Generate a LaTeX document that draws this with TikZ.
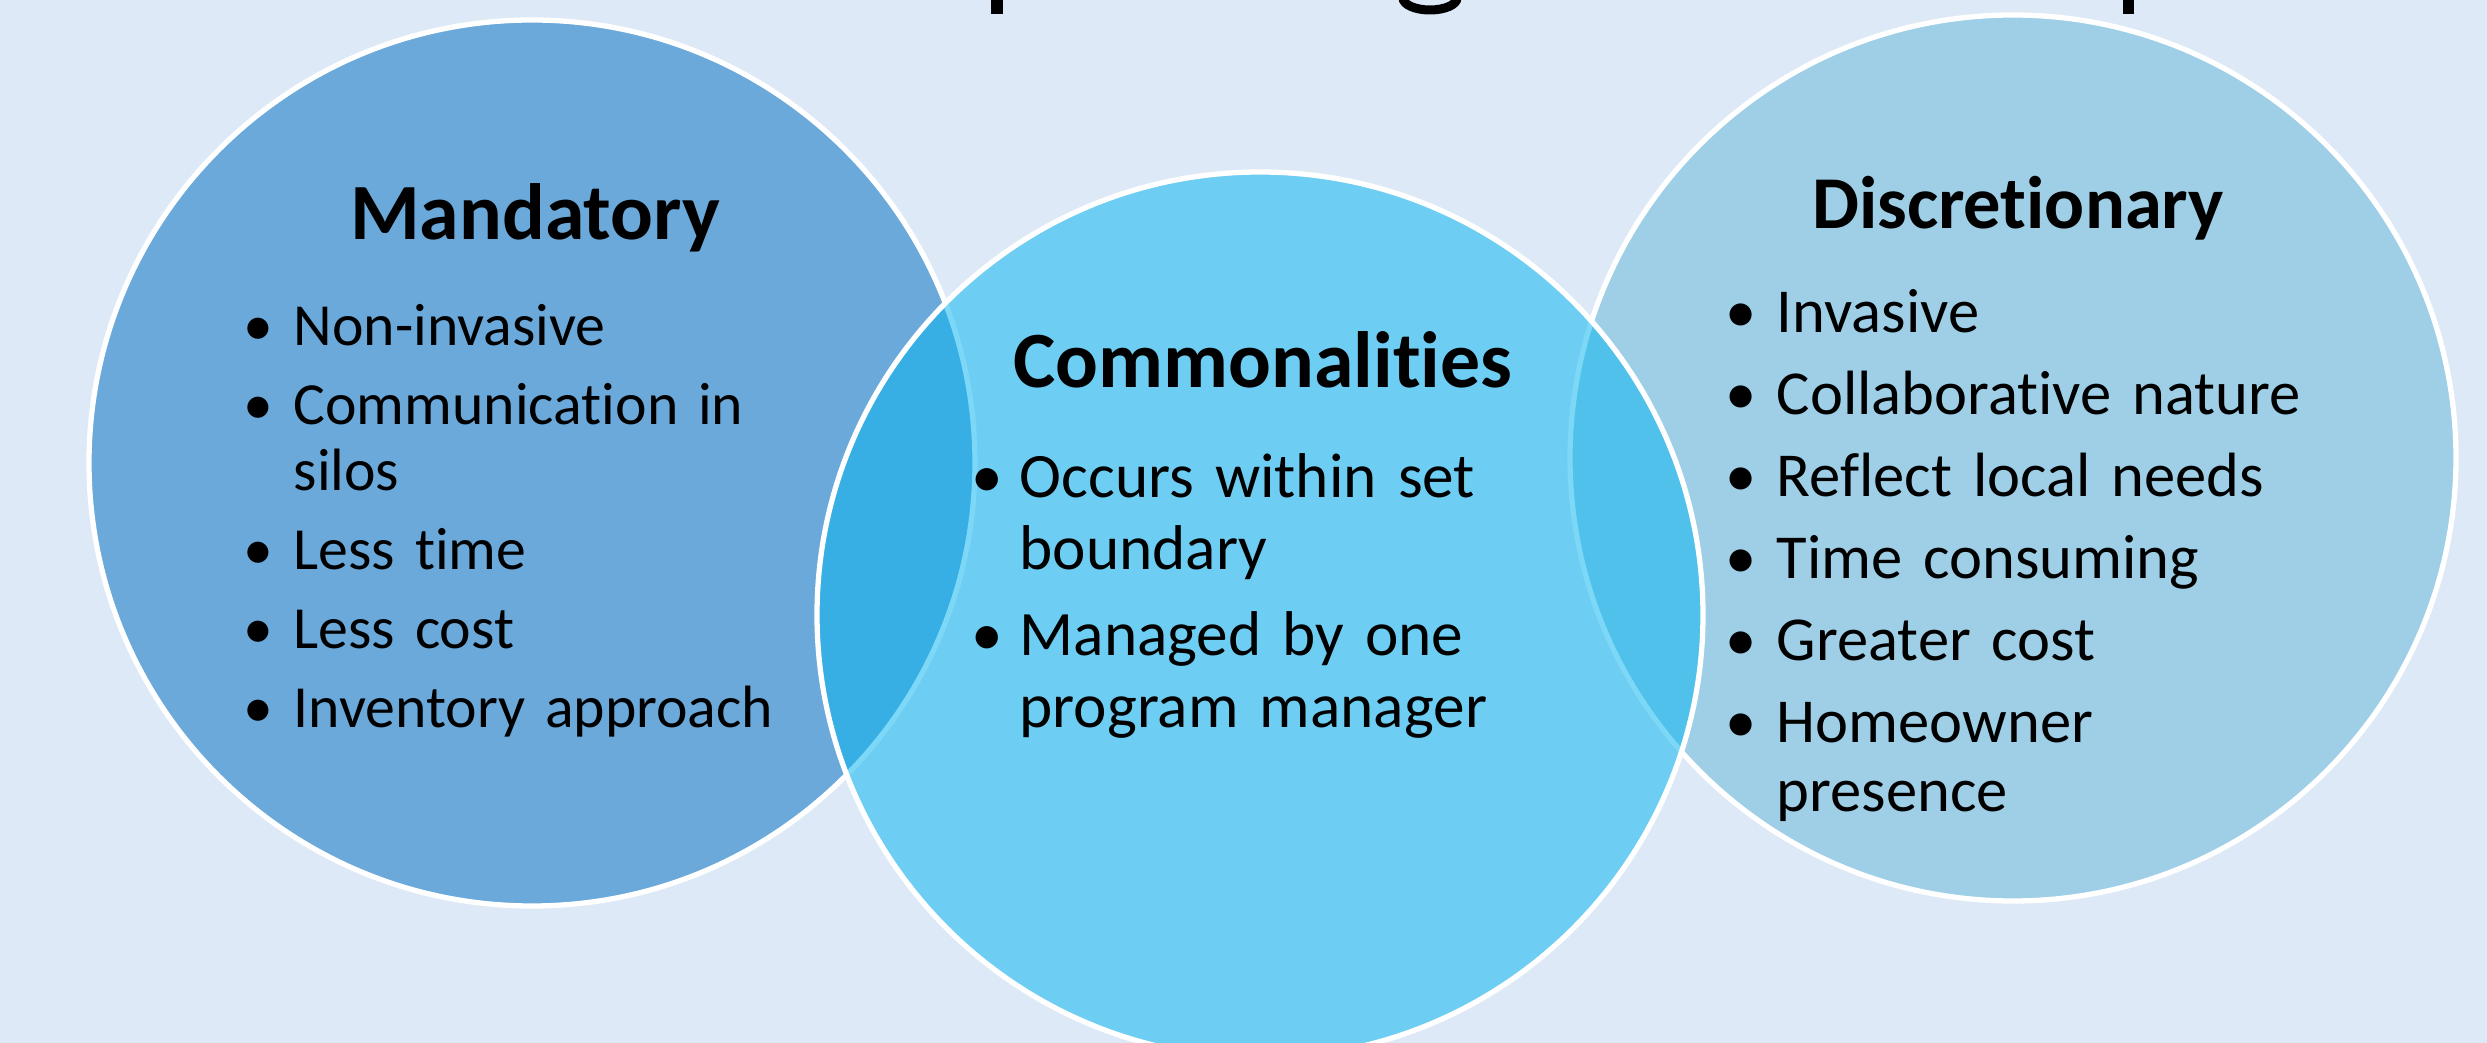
\documentclass[tikz,border=0pt]{standalone}
\usepackage{fontspec}
\setmainfont{Carlito}[Ligatures=NoCommon]
\usetikzlibrary{positioning}

\definecolor{slidebg}{RGB}{221,233,246}
\definecolor{mandblue}{RGB}{106,169,218}
\definecolor{commblue}{RGB}{12,181,240}
\definecolor{discblue}{RGB}{158,207,230}

\newcommand{\listdot}[1]{\leavevmode\llap{\makebox[#1][l]{\textbullet}}}

\begin{document}
\begin{tikzpicture}[
		set/.style={circle, draw=white, line width=1.5pt, minimum size=8.86cm, inner sep=0},
		head/.style={anchor=base, inner sep=0, font=\fontsize{#1}{26pt}\selectfont\bfseries},
		items/.style={anchor=base west, inner sep=0, align=left, text width=#1},
	]
	\useasboundingbox (0,0) rectangle (24.87,-10.43);
	\clip (0,0) rectangle (24.87,-10.43);
	\fill[slidebg] (0,0) rectangle (24.87,-10.43);
	% bits of the title cut off by the top edge
	\fill (9.91,0.05) rectangle (10.03,-0.14);
	\draw[line width=0.09cm] (14.03,0.05) -- (14.03,0.02) arc[start angle=180, end angle=360, x radius=0.27, y radius=0.12] -- (14.57,0.05);
	\fill (21.23,0.05) rectangle (21.34,-0.14);

	\node[set, fill=mandblue] (mand) at (5.32,-4.63) {};
	\node[set, fill=discblue] (disc) at (20.13,-4.58) {};
	\node[set, fill=commblue, fill opacity=0.535] (comm) at (12.60,-6.15) {};

	\node[head=22.7pt] (mandhead) at (5.35,-2.40) {Mandatory};
	\node[head=22.7pt] (commhead) at (12.63,-3.88) {Commonalities};
	\node[head=21.2pt] (dischead) at (20.18,-2.29) {Discretionary};

	\node[items=6cm, font=\fontsize{17pt}{0.66cm}\selectfont] (mandlist) at (2.93,-3.46) {%
		\listdot{0.50cm}Non-invasive\\[0.13cm]
		\listdot{0.50cm}Communication in\\
		silos\\[0.13cm]
		\listdot{0.50cm}Less time\\[0.13cm]
		\listdot{0.50cm}Less cost\\[0.13cm]
		\listdot{0.50cm}Inventory approach};
	\node[items=5.5cm, font=\fontsize{18pt}{0.72cm}\selectfont] (commlist) at (10.19,-4.98) {%
		\listdot{0.48cm}Occurs within set\\
		boundary\\[0.14cm]
		\listdot{0.48cm}Managed by one\\
		program manager};
	\node[items=6cm, font=\fontsize{17.8pt}{0.69cm}\selectfont] (disclist) at (17.76,-3.33) {%
		\listdot{0.51cm}Invasive\\[0.13cm]
		\listdot{0.51cm}Collaborative nature\\[0.13cm]
		\listdot{0.51cm}Reflect local needs\\[0.13cm]
		\listdot{0.51cm}Time consuming\\[0.13cm]
		\listdot{0.51cm}Greater cost\\[0.13cm]
		\listdot{0.51cm}Homeowner\\
		presence};
\end{tikzpicture}
\end{document}
